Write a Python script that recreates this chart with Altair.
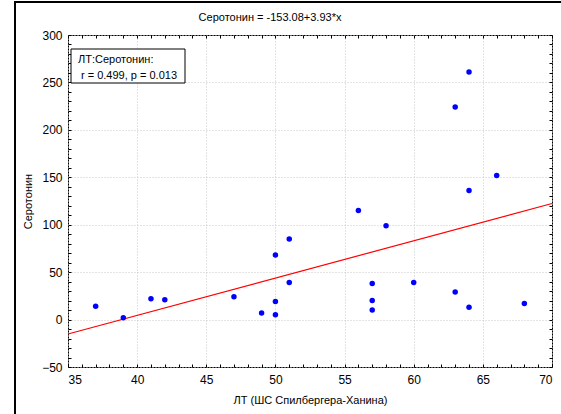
import altair as alt
import pandas as pd

# ---- data ----
lt = [37, 39, 41, 42, 47, 49, 50, 50, 50, 51, 51, 56, 57, 57, 57, 58, 60, 63, 63, 64, 64, 64, 66, 68]
serotonin = [14, 2, 22, 21, 24, 7, 68, 19, 5, 85, 39, 115, 38, 20, 10, 99, 39, 224, 29, 261, 136, 13, 152, 17]

x_domain = [35, 70]
y_domain = [-50, 300]
x_major = [35, 40, 45, 50, 55, 60, 65, 70]
y_major = [-50, 0, 50, 100, 150, 200, 250, 300]
x_minor = list(range(35, 71, 1))
y_minor = list(range(-50, 301, 10))

title_text = "Серотонин = -153.08+3.93*x"
x_title = "ЛТ (ШС Спилбергера-Ханина)"
y_title = "Серотонин"
legend_lines = ["ЛТ:Серотонин:", "r = 0.499, p = 0.013"]

FONT = "Liberation Sans"

df = pd.DataFrame({"x": lt, "y": serotonin})
one = pd.DataFrame({"a": [0]})

xs = alt.Scale(domain=x_domain, nice=False, zero=False)
ys = alt.Scale(domain=y_domain, nice=False, zero=False)

grid_kw = dict(grid=True, gridColor="#c8c8c8", gridDash=[1, 2], gridWidth=1)

x_main = alt.Axis(orient="bottom", values=x_major, ticks=False, tickSize=0, domain=False,
                  labelFont=FONT, labelFontSize=12, labelColor="#000", labelPadding=7,
                  title=x_title, titleFont=FONT, titleFontSize=11, titleFontWeight="normal",
                  titleColor="#000", titlePadding=9, **grid_kw)
y_main = alt.Axis(orient="left", values=y_major, ticks=False, tickSize=0, domain=False,
                  labelFont=FONT, labelFontSize=12, labelColor="#000", labelPadding=6,
                  title=y_title, titleFont=FONT, titleFontSize=11, titleFontWeight="normal",
                  titleColor="#000", titlePadding=8, **grid_kw)

def minor(orient, vals):
    return alt.Axis(orient=orient, values=vals, offset=-3, tickSize=3, tickColor="#000",
                    labels=False, domain=False, grid=False, title=None)

points = alt.Chart(df).mark_circle(size=30, color="#0000FF", opacity=1).encode(
    x=alt.X("x:Q", scale=xs, axis=x_main),
    y=alt.Y("y:Q", scale=ys, axis=y_main),
)

line = alt.Chart(df).transform_regression("x", "y", extent=x_domain).mark_line(
    color="#ff0000", strokeWidth=1.2
).encode(
    x=alt.X("x:Q", scale=xs, axis=minor("bottom", x_minor)),
    y=alt.Y("y:Q", scale=ys, axis=minor("left", y_minor)),
)

minor_tr = alt.Chart(df).mark_circle(opacity=0).encode(
    x=alt.X("x:Q", scale=xs, axis=minor("top", x_minor)),
    y=alt.Y("y:Q", scale=ys, axis=minor("right", y_minor)),
)

box = alt.Chart(one).mark_rect(fill="white", stroke="black", strokeWidth=1).encode(
    x=alt.value(3), x2=alt.value(117), y=alt.value(14), y2=alt.value(48)
)
txt1 = alt.Chart(one).mark_text(align="left", baseline="middle", font=FONT, fontSize=11,
                                color="#000", text=legend_lines[0]).encode(
    x=alt.value(10), y=alt.value(25))
txt2 = alt.Chart(one).mark_text(align="left", baseline="middle", font=FONT, fontSize=11,
                                color="#000", text=legend_lines[1]).encode(
    x=alt.value(13), y=alt.value(41))

frame_left = alt.Chart(one).mark_rule(color="black", strokeWidth=2).encode(
    x=alt.value(-53), y=alt.value(-33), y2=alt.value(379))
frame_top = alt.Chart(one).mark_rule(color="black", strokeWidth=2).encode(
    x=alt.value(-54), x2=alt.value(493), y=alt.value(-33))

chart = alt.layer(
    line, minor_tr, points, box, txt1, txt2, frame_left, frame_top
).resolve_axis(x="independent", y="independent").properties(
    width=484, height=332,
    padding={"left": 68, "top": 35, "right": 9, "bottom": 47},
    autosize=alt.AutoSizeParams(type="none"),
    background="white",
    title=alt.TitleParams(title_text, font=FONT, fontSize=11, fontWeight="normal",
                          color="#000", anchor="middle", dx=-40, offset=-22),
).configure_view(stroke="black", strokeWidth=1)

chart.save("out.html", embed_options={"renderer": "svg", "actions": False})
